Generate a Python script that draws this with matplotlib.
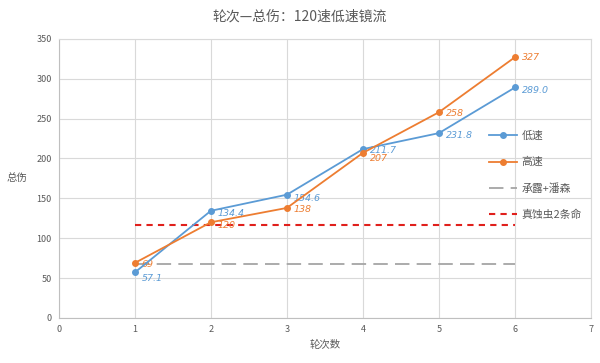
import matplotlib
matplotlib.use("Agg")
import matplotlib.pyplot as plt

plt.rcParams['font.family'] = ['Noto Sans CJK SC', 'DejaVu Sans']

rounds = [1, 2, 3, 4, 5, 6]
low_speed = [57.1, 134.4, 154.6, 211.7, 231.8, 289.0]
high_speed = [69, 120, 138, 207, 258, 327]
line_x = [1, 6]
chenglu_pansen = [68, 68]
zhenyinchong = [116, 116]

low_labels = ["57.1", "134.4", "154.6", "211.7", "231.8", "289.0"]
high_labels = ["69", "120", "138", "207", "258", "327"]
# label offsets (points), roughly as in the original
low_offsets = [(5, -4), (5, -2), (5, -3), (5, -1), (5, -2), (5, -2)]
high_offsets = [(5, -1), (5, -2), (5, -1), (5, -4), (5, -1), (5, 0)]

blue = '#5B9BD5'
orange = '#ED7D31'
gray = '#A5A5A5'
red = '#E0201C'
text_gray = '#595959'

fig = plt.figure(figsize=(6, 3.63), dpi=100)
ax = fig.add_axes([0.098, 0.124, 0.887, 0.769])

ax.plot(rounds, low_speed, color=blue, marker='o', markersize=4, linewidth=1.3, label='低速', zorder=4)
ax.plot(rounds, high_speed, color=orange, marker='o', markersize=4, linewidth=1.3, label='高速', zorder=4)
ax.plot(line_x, chenglu_pansen, color=gray, linestyle=(0, (8, 4)), linewidth=1.3, label='承露+潘森', zorder=3)
ax.plot(line_x, zhenyinchong, color=red, linestyle=(0, (3, 2.5)), linewidth=1.5, label='真蚀虫2条命', zorder=3)

for x, y, s, off in zip(rounds, low_speed, low_labels, low_offsets):
    ax.annotate(s, (x, y), xytext=off, textcoords='offset points', fontsize=6.8,
                color=blue, style='italic', va='center', ha='left', family='DejaVu Sans')
for x, y, s, off in zip(rounds, high_speed, high_labels, high_offsets):
    ax.annotate(s, (x, y), xytext=off, textcoords='offset points', fontsize=6.8,
                color=orange, style='italic', va='center', ha='left', family='DejaVu Sans')

ax.set_xlim(0, 7)
ax.set_ylim(0, 350)
ax.set_xticks(range(0, 8))
ax.set_yticks(range(0, 351, 50))
ax.tick_params(axis='both', length=0, labelsize=6.5, colors=text_gray, pad=5)
ax.grid(True, color='#D9D9D9', linewidth=0.8)
ax.set_axisbelow(True)
for sp in ax.spines.values():
    sp.set_color('#D9D9D9')
    sp.set_linewidth(0.8)
ax.spines['left'].set_color('#BFBFBF')
ax.spines['bottom'].set_color('#BFBFBF')

ax.set_xlabel('轮次数', fontsize=7.5, color=text_gray, labelpad=4)
ax.set_ylabel('总伤', fontsize=7.5, color=text_gray, rotation=0, labelpad=14, va='center')
fig.suptitle('轮次—总伤：120速低速镜流', fontsize=10, color=text_gray, y=0.975)

leg = ax.legend(loc='upper left', bbox_to_anchor=(0.79, 0.705), frameon=False, fontsize=7.8,
                labelspacing=1.45, handlelength=2.6, handletextpad=0.4)
for t in leg.get_texts():
    t.set_color(text_gray)

fig.savefig('out.png', dpi=100)
